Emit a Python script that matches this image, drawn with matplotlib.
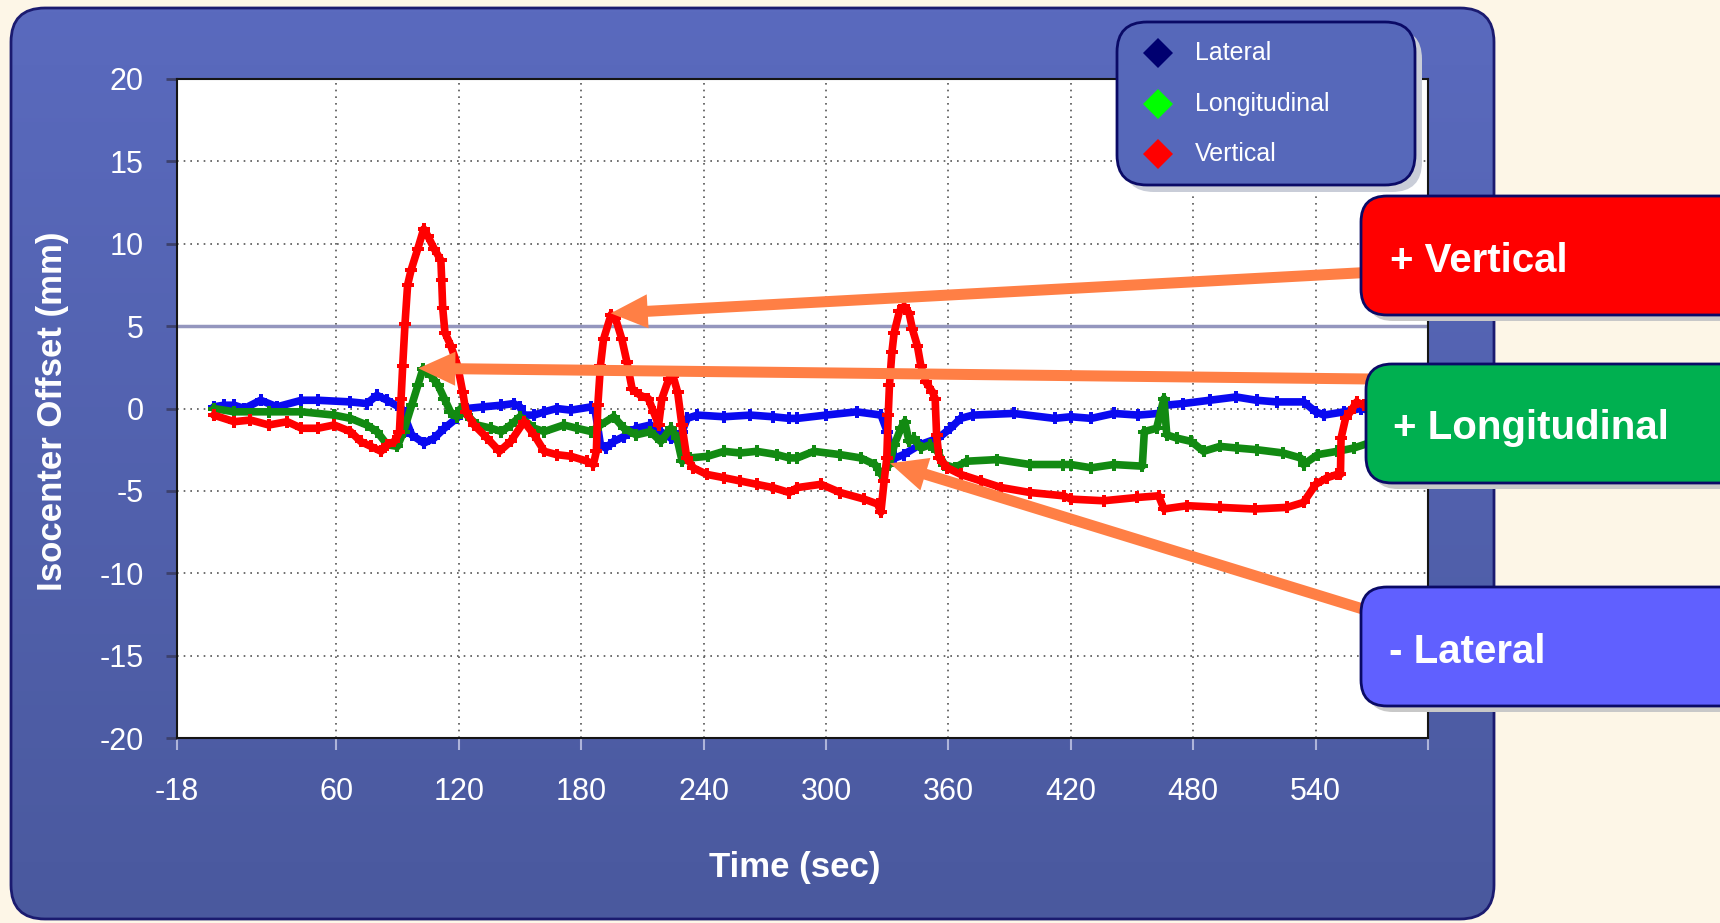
import numpy as np
import matplotlib
matplotlib.use("Agg")
import matplotlib.pyplot as plt
from matplotlib.patches import FancyBboxPatch, FancyArrow
from matplotlib.colors import LinearSegmentedColormap

plt.rcParams['font.family'] = ['Liberation Sans', 'DejaVu Sans']

# ---------------- data ----------------
lat_t = [0, 5, 10, 15, 23, 31, 43, 51, 67, 75, 80, 85, 92, 97, 103, 108, 113, 119, 124, 132,
         141, 147, 150, 152, 157, 162, 168, 175, 185, 187, 189.5, 192, 196, 201, 207, 214, 219,
         224, 227, 229.5, 232, 237, 250, 263, 274, 282, 286, 300, 315, 327, 330, 332, 334, 338,
         346, 355, 361, 366, 372, 392, 412, 420, 430, 441, 453, 463, 466.5, 475, 488, 501, 511,
         521, 534, 540, 544, 554, 562, 566]
lat_v = [0.1, 0.2, 0.2, 0.0, 0.5, 0.1, 0.5, 0.5, 0.4, 0.3, 0.8, 0.5, 0.0, -1.6, -2.1, -1.8, -1.2,
         -0.6, 0.0, 0.1, 0.2, 0.3, 0.1, -0.4, -0.4, -0.2, 0.0, -0.1, 0.1, -0.2, -2.2, -2.4, -2.0,
         -1.7, -1.2, -1.0, -1.4, -1.8, -1.9, -1.4, -0.6, -0.4, -0.5, -0.4, -0.5, -0.6, -0.6, -0.4,
         -0.2, -0.4, -1.4, -2.6, -3.0, -2.8, -2.2, -1.8, -1.2, -0.6, -0.4, -0.3, -0.6, -0.5, -0.6,
         -0.3, -0.4, -0.3, 0.2, 0.3, 0.5, 0.7, 0.5, 0.4, 0.4, -0.2, -0.4, -0.2, 0.0, -0.1]

lon_t = [0, 10, 27, 43, 59, 67, 75, 80, 85, 90, 93, 97, 100, 102.5, 106.5, 110, 113, 116, 119,
         121, 124, 129, 136, 141, 145.5, 150, 157, 162, 171.5, 178, 185, 189.5, 196, 201, 207,
         214, 219, 224, 227, 229.5, 233.5, 242, 250, 258, 266, 276, 282, 286, 294, 307, 317, 324,
         327, 331, 333.5, 336.7, 338.6, 340.7, 343, 346.5, 351, 354.6, 358, 363, 369, 384, 400,
         416, 420, 430, 441, 455, 456, 462, 465.6, 467, 472, 479, 485, 493, 501.5, 511, 524,
         532.5, 534, 541, 550.5, 558.6, 566]
lon_v = [0.0, -0.2, -0.2, -0.2, -0.4, -0.6, -1.0, -1.4, -2.2, -2.3, -1.4, 0.2, 1.4, 2.4, 2.0, 1.4,
         0.6, -0.2, -0.5, 0.0, -0.4, -1.0, -1.2, -1.4, -1.0, -0.5, -1.2, -1.4, -1.0, -1.2, -1.4,
         -1.0, -0.5, -1.2, -1.6, -1.4, -2.0, -1.2, -1.8, -3.2, -3.0, -2.9, -2.6, -2.7, -2.6, -2.8,
         -3.0, -3.0, -2.6, -2.8, -3.0, -3.4, -4.0, -3.4, -2.2, -1.2, -0.8, -2.0, -1.8, -2.4, -2.2,
         -2.6, -3.4, -3.6, -3.2, -3.1, -3.4, -3.4, -3.4, -3.6, -3.4, -3.5, -1.4, -1.2, 0.6, -1.6,
         -1.8, -2.0, -2.6, -2.3, -2.4, -2.5, -2.7, -3.0, -3.4, -2.8, -2.6, -2.4, -2.1]

ver_t = [0, 10, 18, 27, 36, 43, 51, 59, 67, 72, 77, 82, 85, 88.5, 91, 91.8, 92.6, 93.7, 95, 96.7,
         100, 102.9, 104.8, 108, 111.3, 111.7, 112.2, 113.3, 116.2, 119.5, 122, 123.6, 127.6, 134,
         140, 145.5, 152, 157, 162, 168, 175, 183, 186, 187.5, 188.2, 189.5, 191, 194.7, 196.8,
         200, 202.5, 205, 209, 213, 215.5, 218, 219.6, 223, 225, 227.3, 229.4, 231.8, 235, 241.6,
         250, 258, 266, 274, 282, 286, 297.6, 307, 318.7, 325.3, 326.9, 328.5, 329.8, 330.5,
         331.1, 332.3, 333.4, 336, 338.3, 340.7, 342.4, 344.8, 346.5, 349, 352.2, 353.5, 354.2,
         355.4, 359.5, 366, 376, 386, 400, 416.5, 420, 436, 452.6, 463, 465.6, 477, 493, 510,
         526, 534, 540, 545.6, 550.5, 552.1, 552.4, 554.6, 557, 560, 563.5, 566]
ver_v = [-0.4, -0.8, -0.7, -1.0, -0.8, -1.2, -1.2, -1.0, -1.4, -2.0, -2.3, -2.6, -2.2, -2.0, -1.4,
         0.6, 2.6, 5.1, 7.5, 8.4, 9.7, 10.9, 10.5, 9.7, 9.0, 7.8, 6.1, 4.6, 3.8, 2.6, 1.0, -0.2,
         -1.0, -1.8, -2.6, -2.0, -0.8, -1.6, -2.6, -2.8, -2.9, -3.2, -3.4, -2.6, 0.2, 2.6, 4.2,
         5.7, 5.5, 4.2, 2.8, 1.2, 0.8, 0.6, -0.2, -1.0, 0.6, 1.8, 2.0, 1.0, -1.0, -3.0, -3.6,
         -4.0, -4.2, -4.4, -4.6, -4.8, -5.1, -4.8, -4.6, -5.1, -5.5, -5.8, -6.3, -4.4, -3.0,
         -0.4, 1.4, 3.4, 4.6, 5.9, 6.2, 5.8, 4.8, 3.8, 2.6, 1.6, 1.0, 0.6, -1.6, -3.0, -3.6,
         -4.0, -4.4, -4.8, -5.1, -5.3, -5.5, -5.6, -5.4, -5.3, -6.1, -5.9, -6.0, -6.1, -6.0,
         -5.7, -4.6, -4.2, -4.0, -4.0, -1.8, -0.6, -0.2, 0.4, 0.2, 0.4]

series_names = ["Lateral", "Longitudinal", "Vertical"]
x_ticks = [-18, 60, 120, 180, 240, 300, 360, 420, 480, 540]
y_ticks = [-20, -15, -10, -5, 0, 5, 10, 15, 20]
callouts = ["+ Vertical", "+ Longitudinal", "- Lateral"]

# ---------------- figure ----------------
W, H = 1720, 923
fig = plt.figure(figsize=(W / 100, H / 100), dpi=100, facecolor="#FDF6E7")

# background panel (pixel coordinates)
bg = fig.add_axes([0, 0, 1, 1], zorder=0)
bg.set_xlim(0, W)
bg.set_ylim(H, 0)
bg.axis("off")
panel = FancyBboxPatch((11, 8), 1483, 911, boxstyle="round,pad=0,rounding_size=34",
                       facecolor="none", edgecolor="#1B1B70", lw=2, zorder=3)
bg.add_patch(panel)
cmap = LinearSegmentedColormap.from_list("pan", ["#5A6ABE", "#4A599E"])
grad = np.linspace(0, 1, 256).reshape(-1, 1)
im = bg.imshow(grad, extent=(11, 1494, 919, 8), aspect="auto", cmap=cmap, zorder=1)
clip = FancyBboxPatch((11, 8), 1483, 911, boxstyle="round,pad=0,rounding_size=34",
                      transform=bg.transData, facecolor="none", edgecolor="none")
im.set_clip_path(clip)

# main axes
ax = fig.add_axes([177 / W, 185 / H, 1251 / W, 659 / H], zorder=1)
ax.set_facecolor("white")
ax.set_xlim(-18, 595)
ax.set_ylim(-20, 20)

ax.axhline(5, color="#9496BE", lw=2.5, zorder=1.2)
ax.grid(True, linestyle=(0, (1, 3)), color="#555555", lw=1.2, zorder=1)

style = dict(lw=5.5, marker="P", ms=8, mew=0, solid_joinstyle="round", solid_capstyle="round")
ax.plot(lat_t, lat_v, color="#0A0AF0", zorder=2, **style)
ax.plot(lon_t, lon_v, color="#128A12", zorder=3, **style)
ax.plot(ver_t, ver_v, color="#FF0000", zorder=4, **style)

ax.set_xticks(x_ticks + [595])
ax.set_xticklabels([str(v) for v in x_ticks] + [""])
ax.set_yticks(y_ticks)
ax.set_yticklabels([str(v) for v in y_ticks])
ax.tick_params(axis="x", colors="#AEB4DA", length=8.6, width=1.5, pad=19.5, labelsize=22,
               labelcolor="white", direction="out")
ax.tick_params(axis="y", colors="#3C406C", length=8, width=2, pad=16, labelsize=22,
               labelcolor="white", direction="out")
for s in ax.spines.values():
    s.set_color("#151515")
    s.set_linewidth(1.5)
ax.set_axisbelow(True)

ax.set_xlabel("Time (sec)", fontsize=25, fontweight="bold", color="white")
ax.xaxis.set_label_coords(0.494, -0.196)
ax.xaxis.label.set_va("center")
ax.set_ylabel("Isocenter Offset (mm)", fontsize=25, fontweight="bold", color="white")
ax.yaxis.set_label_coords(-0.0999, 0.496)
ax.yaxis.label.set_va("center")

# overlay (pixel coordinates)
ov = fig.add_axes([0, 0, 1, 1], zorder=2)
ov.set_xlim(0, W)
ov.set_ylim(H, 0)
ov.axis("off")
ov.patch.set_visible(False)

# legend
ov.add_patch(FancyBboxPatch((1124, 29), 298, 163, boxstyle="round,pad=0,rounding_size=30",
                            facecolor="#C9CDD8", edgecolor="none", zorder=1))
ov.add_patch(FancyBboxPatch((1117, 22), 298, 163, boxstyle="round,pad=0,rounding_size=30",
                            facecolor="#5668BA", edgecolor="#0A0A66", lw=2, zorder=2))
leg_colors = ["#000070", "#00FF00", "#FF0000"]
for i, (name, c) in enumerate(zip(series_names, leg_colors)):
    yy = 53 + 50.5 * i
    ov.plot([1158], [yy], marker="D", ms=15.3, color=c, mew=0, zorder=3)
    ov.text(1195, yy, name, color="white", fontsize=18, va="center", ha="left", zorder=3)

# arrows
orange = "#FF7F45"
arrows = [((1366, 272.5), (610.7, 313.3)),
          ((1370, 379), (418.3, 368.3)),
          ((1366, 610), (890, 463.3))]
for (x0, y0), (x1, y1) in arrows:
    ov.add_patch(FancyArrow(x0, y0, x1 - x0, y1 - y0, width=11, head_width=34, head_length=37,
                            length_includes_head=True, color=orange, lw=0, zorder=4))

# callout boxes
boxes = [(1361, 196, 119, "#FF0000", 1390, 271.7),
         (1366, 364, 119, "#00B050", 1393, 439),
         (1361, 587, 119, "#6060FF", 1389, 662.7)]
for (bx, by, bh, fc, tx, ty), label in zip(boxes, callouts):
    ov.add_patch(FancyBboxPatch((bx + 6, by + 6), 420, bh, boxstyle="round,pad=0,rounding_size=26",
                                facecolor="#C8C8C8", edgecolor="none", zorder=5))
    ov.add_patch(FancyBboxPatch((bx, by), 420, bh, boxstyle="round,pad=0,rounding_size=26",
                                facecolor=fc, edgecolor="#0A0A66", lw=2, zorder=6))
    ov.text(tx, ty, label, color="white", fontsize=29, fontweight="bold", ha="left",
            va="baseline", zorder=7)

fig.savefig("out.png", dpi=100, facecolor=fig.get_facecolor())
